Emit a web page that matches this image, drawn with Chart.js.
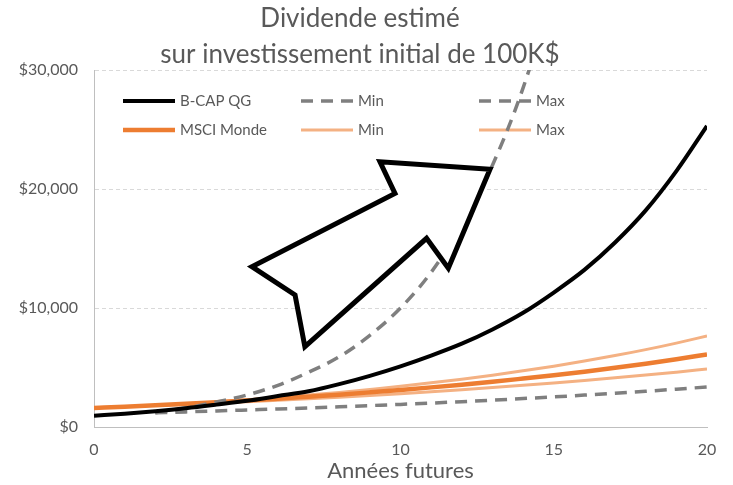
<!DOCTYPE html>
<html>
<head>
<meta charset="utf-8">
<script src="https://cdn.jsdelivr.net/npm/chart.js@4"></script>
<style>
  html, body { margin: 0; padding: 0; background: #fff; }
  #wrap { width: 733px; height: 485px; }
</style>
</head>
<body>
<div id="wrap"><canvas id="c" width="733" height="485"></canvas></div>
<script>
// ---- données ----
const ANNEES = [0,1,2,3,4,5,6,7,8,9,10,11,12,13,14,15,16,17,18,19,20];

const BCAP     = [950,1120,1330,1580,1880,2200,2600,3000,3600,4300,5100,6000,7000,8200,9600,11300,13200,15500,18200,21500,25300];
const BCAP_MIN = [null,null,1200,1270,1350,1430,1510,1600,1700,1800,1900,2010,2130,2250,2390,2530,2680,2830,3000,3180,3360];
const BCAP_MAX = [null,null,1200,1600,2100,2700,3500,4600,5900,7700,10000,13000,17000,22000,28500,37000,48000];

const MSCI     = [1600,1700,1820,1950,2080,2230,2380,2550,2720,2910,3110,3330,3560,3800,4070,4350,4650,4970,5320,5690,6100];
const MSCI_MIN = [null,null,1800,1900,2010,2130,2250,2380,2510,2650,2800,2960,3130,3310,3500,3700,3910,4130,4360,4610,4870];
const MSCI_MAX = [null,null,1800,1950,2110,2290,2480,2690,2910,3160,3420,3710,4020,4350,4720,5110,5540,6000,6500,7050,7650];

const TITRE = ['Dividende estimé', 'sur investissement initial de 100K$'];
const TITRE_X = 'Années futures';

// flèche décorative (en unités de données)
const FLECHE = [[5.15,13470],[6.56,11090],[6.88,6750],[10.85,15860],[11.56,13340],[12.92,21660],[9.33,22290],[9.82,19630]];

const NOIR = '#000000', GRIS = '#7f7f7f', ORANGE = '#ed7d31', ORANGE_CLAIR = '#f4b183';
const TEXTE = '#595959';
const POLICE = 'Lato, "Open Sans", sans-serif';
const TIRETS = [12, 8];

Chart.defaults.font.family = POLICE;
Chart.defaults.color = TEXTE;

const pts = arr => arr.map((v, i) => ({ x: ANNEES[i], y: v })).filter(p => p.y !== null);

function serie(label, arr, couleur, largeur, tirets) {
  return {
    label, data: pts(arr), borderColor: couleur, backgroundColor: couleur,
    borderWidth: largeur, borderDash: tirets || [], pointRadius: 0,
    cubicInterpolationMode: 'monotone', fill: false
  };
}

// ---- légende style Excel, dans la zone du graphique ----
const LEGENDE = [
  { t: 'B-CAP QG',   c: NOIR,         w: 4,   d: [],     col: 0, row: 0 },
  { t: 'Min',        c: GRIS,         w: 3.5, d: TIRETS, col: 1, row: 0 },
  { t: 'Max',        c: GRIS,         w: 3.5, d: TIRETS, col: 2, row: 0 },
  { t: 'MSCI Monde', c: ORANGE,       w: 4.5, d: [],     col: 0, row: 1 },
  { t: 'Min',        c: ORANGE_CLAIR, w: 3,   d: [],     col: 1, row: 1 },
  { t: 'Max',        c: ORANGE_CLAIR, w: 3,   d: [],     col: 2, row: 1 },
];

const pluginLegende = {
  id: 'legende',
  beforeDatasetsDraw(chart) {
    const { ctx, chartArea: a } = chart;
    ctx.save();
    ctx.font = '15px ' + POLICE;
    ctx.textBaseline = 'middle';
    LEGENDE.forEach(l => {
      const x0 = a.left + 29 + l.col * 178;
      const y = a.top + 31 + l.row * 29;
      ctx.strokeStyle = l.c;
      ctx.lineWidth = l.w;
      ctx.setLineDash(l.d);
      ctx.beginPath(); ctx.moveTo(x0, y); ctx.lineTo(x0 + 52, y); ctx.stroke();
      ctx.setLineDash([]);
      ctx.fillStyle = TEXTE;
      ctx.fillText(l.t, x0 + 57, y);
    });
    ctx.restore();
  }
};

const pluginFleche = {
  id: 'fleche',
  afterDatasetsDraw(chart) {
    const { ctx, scales: { x, y } } = chart;
    ctx.save();
    ctx.beginPath();
    FLECHE.forEach(([fx, fy], i) => {
      const px = x.getPixelForValue(fx), py = y.getPixelForValue(fy);
      if (i === 0) ctx.moveTo(px, py); else ctx.lineTo(px, py);
    });
    ctx.closePath();
    ctx.fillStyle = '#ffffff';
    ctx.fill();
    ctx.lineWidth = 5;
    ctx.lineJoin = 'miter';
    ctx.strokeStyle = '#000';
    ctx.stroke();
    ctx.restore();
  }
};

const pluginTitre = {
  id: 'titre',
  afterDraw(chart) {
    const { ctx } = chart;
    ctx.save();
    ctx.font = '26px ' + POLICE;
    ctx.fillStyle = TEXTE;
    ctx.textAlign = 'center';
    ctx.textBaseline = 'middle';
    ctx.fillText(TITRE[0], 360, 19);
    ctx.fillText(TITRE[1], 360, 55);
    ctx.restore();
  }
};

new Chart(document.getElementById('c'), {
  type: 'line',
  data: {
    datasets: [
      serie('B-CAP QG', BCAP, NOIR, 4),
      serie('Min', BCAP_MIN, GRIS, 3.5, TIRETS),
      serie('Max', BCAP_MAX, GRIS, 3.5, TIRETS),
      serie('MSCI Monde', MSCI, ORANGE, 4.5),
      serie('Min', MSCI_MIN, ORANGE_CLAIR, 3),
      serie('Max', MSCI_MAX, ORANGE_CLAIR, 3),
    ]
  },
  options: {
    responsive: false,
    animation: false,
    layout: { padding: { top: 70, right: 26, bottom: 0, left: 10 } },
    plugins: { legend: { display: false }, title: { display: false }, tooltip: { enabled: false } },
    scales: {
      x: {
        type: 'linear', min: 0, max: 20,
        ticks: { stepSize: 5, font: { size: 16 }, color: TEXTE, padding: 13, maxRotation: 0 },
        grid: { display: false, drawTicks: false },
        border: { display: true, color: '#bfbfbf', width: 1 },
        title: { display: true, text: TITRE_X, font: { size: 22 }, color: TEXTE, padding: { top: 0, bottom: 1 } },
        afterFit: s => { s.height = 58; }
      },
      y: {
        min: 0, max: 30000,
        ticks: { stepSize: 10000, font: { size: 16 }, color: TEXTE, padding: 16,
                 callback: v => '$' + v.toLocaleString('en-US') },
        grid: { color: '#d9d9d9', drawTicks: false, lineWidth: 1 },
        border: { display: true, color: '#bfbfbf', width: 1, dash: [4, 3] },
        afterFit: s => { s.width = 84; }
      }
    }
  },
  plugins: [pluginLegende, pluginFleche, pluginTitre]
});
</script>
</body>
</html>
